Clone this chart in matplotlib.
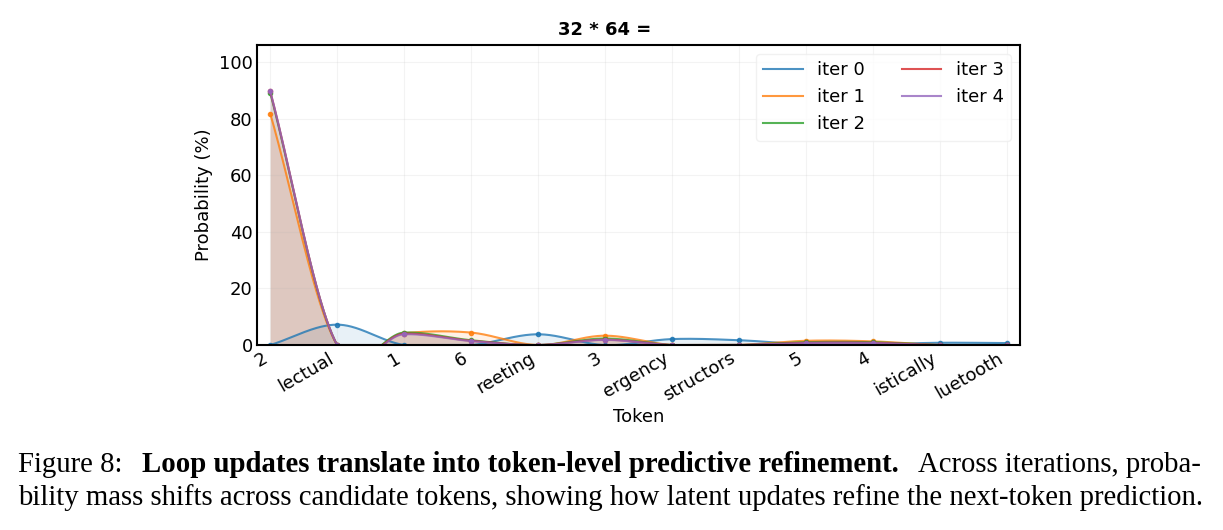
import numpy as np
import matplotlib
matplotlib.use('Agg')
import matplotlib.pyplot as plt

# data
tokens = ['2', 'lectual', '1', '6', 'reeting', '3', 'ergency', 'structors',
          '5', '4', 'istically', 'luetooth']
iter_0 = [0.0, 7.2, 0.0, 0.0, 3.8, 0.0, 2.1, 1.7, 0.3, 0.3, 0.8, 0.7]
iter_1 = [81.8, 0.0, 4.2, 4.4, 0.0, 3.3, 0.0, 0.0, 1.5, 1.3, 0.0, 0.0]
iter_2 = [89.1, 0.0, 4.4, 1.7, 0.0, 2.3, 0.0, 0.0, 1.0, 1.0, 0.0, 0.0]
iter_3 = [89.6, 0.0, 4.0, 1.5, 0.0, 1.9, 0.0, 0.0, 0.8, 0.8, 0.0, 0.0]
iter_4 = [89.7, 0.0, 3.8, 1.4, 0.0, 1.8, 0.0, 0.0, 0.7, 0.7, 0.0, 0.0]
series_names = ['iter 0', 'iter 1', 'iter 2', 'iter 3', 'iter 4']
series_values = [iter_0, iter_1, iter_2, iter_3, iter_4]


def smooth_curve(x, y, xs):
    # cubic hermite through the points, tangents from finite differences
    x = np.asarray(x, float)
    y = np.asarray(y, float)
    m = np.gradient(y, x)
    idx = np.clip(np.searchsorted(x, xs) - 1, 0, len(x) - 2)
    h = x[idx + 1] - x[idx]
    t = (xs - x[idx]) / h
    h00 = 2 * t ** 3 - 3 * t ** 2 + 1
    h10 = t ** 3 - 2 * t ** 2 + t
    h01 = -2 * t ** 3 + 3 * t ** 2
    h11 = t ** 3 - t ** 2
    return h00 * y[idx] + h10 * h * m[idx] + h01 * y[idx + 1] + h11 * h * m[idx + 1]


fig = plt.figure(figsize=(12.23, 5.30), dpi=100)
ax = fig.add_axes([0.210, 0.349, 0.624, 0.566])

x = np.arange(len(tokens))
xs = np.linspace(0, len(tokens) - 1, 800)
colors = ['C0', 'C1', 'C2', 'C3', 'C4']

for name, vals, c in zip(series_names, series_values, colors):
    ys = np.clip(smooth_curve(x, vals, xs), 0, None)
    ax.plot(xs, ys, color=c, lw=1.5, alpha=0.8, label=name)
    ax.fill_between(xs, 0, ys, color=c, alpha=0.1, lw=0)
    ax.plot(x, vals, 'o', color=c, ms=3, alpha=0.85)

ax.set_xlim(-0.2, len(tokens) - 0.8)
ax.set_ylim(0, 106)
ax.set_yticks([0, 20, 40, 60, 80, 100])
ax.set_xticks(x)
ax.set_xticklabels(tokens, rotation=30, ha='right')
ax.tick_params(labelsize=13, length=0, pad=3)
ax.grid(True, alpha=0.15)
for sp in ax.spines.values():
    sp.set_linewidth(1.5)
ax.set_xlabel('Token', fontsize=13, labelpad=2)
ax.set_ylabel('Probability (%)', fontsize=13)
fig.text(605 / 1223, 1 - 30 / 530, '32 * 64 =', fontsize=13,
         fontweight='bold', ha='center', va='center')
leg = ax.legend(ncol=2, loc='upper right', fontsize=13, framealpha=0.8,
                columnspacing=2.0, handlelength=2.2)
leg.get_frame().set_edgecolor('#eeeeee')

# caption below the chart, serif with a bold run, roughly justified
renderer = fig.canvas.get_renderer()
W = fig.bbox.width
serif = 'Liberation Serif'
x_left, x_right = 18, 1201
line2 = fig.text(x_left / W, 1 - 498 / 530,
                 'bility mass shifts across candidate tokens, showing how latent '
                 'updates refine the next-token prediction.',
                 fontsize=20, family=serif, va='center')
w2 = line2.get_window_extent(renderer).width
cap_size = 20 * (x_right - x_left) / w2
line2.set_fontsize(cap_size)

y1 = 1 - 465 / 530
t1 = fig.text(x_left / W, y1, 'Figure 8:', fontsize=cap_size,
              family=serif, va='center')
t2 = fig.text(0, y1, 'Loop updates translate into token-level predictive refinement.',
              fontsize=cap_size, family=serif, fontweight='bold', va='center')
t3 = fig.text(x_right / W, y1, 'Across iterations, proba-', fontsize=cap_size,
              family=serif, va='center', ha='right')
b1 = t1.get_window_extent(renderer)
b2 = t2.get_window_extent(renderer)
b3 = t3.get_window_extent(renderer)
gap = (b3.x0 - b1.x1 - b2.width) / 2
t2.set_x((b1.x1 + gap) / W)

fig.savefig('out.png', dpi=100)
